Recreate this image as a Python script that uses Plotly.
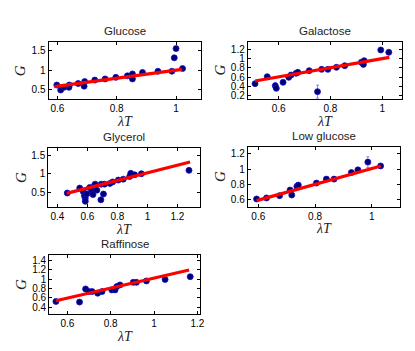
import plotly.graph_objects as go

# ---------------- data ----------------
titles = ["Glucose", "Galactose", "Glycerol", "Low glucose", "Raffinose"]

glucose_x = [0.598, 0.611, 0.622, 0.639, 0.640, 0.670, 0.692, 0.690, 0.726, 0.761,
             0.797, 0.836, 0.853, 0.853, 0.887, 0.939, 0.986, 0.994, 1.000, 1.022]
glucose_y = [0.61, 0.48, 0.55, 0.55, 0.61, 0.65, 0.70, 0.58, 0.74, 0.77,
             0.81, 0.85, 0.90, 0.77, 0.94, 0.97, 0.97, 1.32, 1.56, 1.04]
glucose_err = [0.02] * 20
glucose_fit_x = [0.59, 1.02]
glucose_fit_y = [0.57, 1.02]

galactose_x = [0.509, 0.556, 0.587, 0.591, 0.617, 0.639, 0.648, 0.667, 0.674, 0.718,
               0.750, 0.766, 0.790, 0.823, 0.855, 0.919, 0.927, 0.930, 0.994, 1.025]
galactose_y = [0.457, 0.607, 0.414, 0.357, 0.486, 0.593, 0.643, 0.679, 0.700, 0.736,
               0.286, 0.764, 0.764, 0.807, 0.843, 0.914, 0.871, 0.950, 1.180, 1.130]
galactose_err = [0.02, 0.02, 0.07, 0.03, 0.02, 0.03, 0.02, 0.02, 0.02, 0.02,
                 0.14, 0.02, 0.02, 0.02, 0.02, 0.03, 0.02, 0.02, 0.02, 0.02]
galactose_fit_x = [0.509, 1.027]
galactose_fit_y = [0.514, 1.02]

glycerol_x = [0.466, 0.549, 0.571, 0.580, 0.586, 0.586, 0.597, 0.615, 0.630, 0.637,
              0.646, 0.652, 0.663, 0.692, 0.690, 0.707, 0.714, 0.750, 0.768, 0.806,
              0.839, 0.882, 0.889, 0.915, 0.960, 1.277]
glycerol_y = [0.482, 0.615, 0.527, 0.41, 0.34, 0.26, 0.46, 0.63, 0.54, 0.44,
              0.68, 0.72, 0.56, 0.72, 0.30, 0.456, 0.72, 0.74, 0.78, 0.83,
              0.854, 0.925, 1.01, 0.97, 1.00, 1.09]
glycerol_err = [0.02, 0.03, 0.04, 0.05, 0.05, 0.05, 0.05, 0.03, 0.04, 0.05,
                0.03, 0.03, 0.04, 0.03, 0.05, 0.06, 0.03, 0.03, 0.02, 0.02,
                0.02, 0.03, 0.03, 0.02, 0.02, 0.02]
glycerol_fit_x = [0.461, 1.284]
glycerol_fit_y = [0.473, 1.314]

lowglu_x = [0.594, 0.629, 0.675, 0.712, 0.718, 0.736, 0.741, 0.805, 0.840, 0.867,
            0.928, 0.951, 0.986, 1.031]
lowglu_y = [0.609, 0.622, 0.652, 0.725, 0.660, 0.773, 0.790, 0.816, 0.868, 0.868,
            0.954, 0.989, 1.090, 1.040]
lowglu_err = [0.01, 0.01, 0.01, 0.02, 0.02, 0.01, 0.01, 0.01, 0.01, 0.01,
              0.01, 0.01, 0.07, 0.01]
lowglu_fit_x = [0.594, 1.032]
lowglu_fit_y = [0.587, 1.04]

raffinose_x = [0.547, 0.656, 0.684, 0.699, 0.714, 0.740, 0.760, 0.805, 0.820, 0.828,
               0.843, 0.904, 0.919, 0.965, 1.051, 1.167]
raffinose_y = [0.526, 0.512, 0.790, 0.735, 0.735, 0.700, 0.735, 0.770, 0.770, 0.840,
               0.875, 0.930, 0.930, 0.960, 0.990, 1.050]
raffinose_err = [0.02] * 16
raffinose_fit_x = [0.547, 1.162]
raffinose_fit_y = [0.54, 1.19]

x_ranges = [[0.57, 1.083], [0.481, 1.074], [0.339, 1.35], [0.563, 1.099], [0.516, 1.212]]
y_ranges = [[0.24, 1.74], [0.13, 1.357], [0.10, 1.695], [0.509, 1.286], [0.267, 1.505]]
x_ticks = [[0.6, 0.8, 1.0], [0.6, 0.8, 1.0], [0.4, 0.6, 0.8, 1.0, 1.2],
           [0.6, 0.8, 1.0], [0.6, 0.8, 1.0, 1.2]]
y_ticks = [[0.5, 1.0, 1.5], [0.2, 0.4, 0.6, 0.8, 1.0, 1.2], [0.5, 1.0, 1.5],
           [0.6, 0.8, 1.0, 1.2], [0.4, 0.6, 0.8, 1.0, 1.2, 1.4]]

# ---------------- layout geometry (pixels) ----------------
W, H = 415, 351
boxes = [(41, 195, 33, 91), (242.7, 398.3, 33, 90.7), (40.7, 194.3, 140, 200),
         (242.7, 396.7, 139.3, 199.3), (41.7, 194.3, 248.3, 307.3)]

series = [
    (glucose_x, glucose_y, glucose_err, glucose_fit_x, glucose_fit_y),
    (galactose_x, galactose_y, galactose_err, galactose_fit_x, galactose_fit_y),
    (glycerol_x, glycerol_y, glycerol_err, glycerol_fit_x, glycerol_fit_y),
    (lowglu_x, lowglu_y, lowglu_err, lowglu_fit_x, lowglu_fit_y),
    (raffinose_x, raffinose_y, raffinose_err, raffinose_fit_x, raffinose_fit_y),
]

def fmt(v):
    s = ("%.1f" % v)
    return s[:-2] if s.endswith(".0") else s

fig = go.Figure()
annotations = []
layout_axes = {}
for i, (xs, ys, es, fx, fy) in enumerate(series):
    n = "" if i == 0 else str(i + 1)
    xa, ya = "x" + n, "y" + n
    fig.add_trace(go.Scatter(
        x=xs, y=ys, xaxis=xa, yaxis=ya, mode="markers",
        marker=dict(size=6, color="#000070", line=dict(color="#1010d0", width=0.8)),
        error_y=dict(type="data", array=es, visible=True, color="rgba(60,60,255,0.75)",
                     thickness=0.8, width=1.5),
        showlegend=False, hoverinfo="skip"))
    fig.add_trace(go.Scatter(
        x=fx, y=fy, xaxis=xa, yaxis=ya, mode="lines",
        line=dict(color="#ff0000", width=3.2), showlegend=False, hoverinfo="skip"))
    x0, x1, y0, y1 = boxes[i]
    common = dict(showgrid=False, zeroline=False, showline=True, linecolor="black",
                  linewidth=1, mirror="ticks", ticks="inside", ticklen=3,
                  tickcolor="black", tickfont=dict(family="Liberation Sans", size=10,
                                                  color="black"))
    layout_axes["xaxis" + n] = dict(common, domain=[x0 / W, x1 / W], range=x_ranges[i],
                                    anchor=ya, tickvals=x_ticks[i],
                                    ticktext=[fmt(v) for v in x_ticks[i]])
    layout_axes["yaxis" + n] = dict(common, domain=[1 - y1 / H, 1 - y0 / H],
                                    range=y_ranges[i], anchor=xa, tickvals=y_ticks[i],
                                    ticktext=[fmt(v) for v in y_ticks[i]])
    cx = (x0 + x1) / 2
    # title
    annotations.append(dict(text=titles[i], x=cx / W, y=1 - (y0 - 11) / H,
                            xref="paper", yref="paper", showarrow=False,
                            xanchor="center", yanchor="middle",
                            font=dict(family="Liberation Sans", size=11.5, color="#222")))
    # x label
    annotations.append(dict(text="<i>λT</i>", x=cx / W, y=1 - (y1 + 13) / H,
                            xref="paper", yref="paper", showarrow=False,
                            xanchor="center", yanchor="top",
                            font=dict(family="Liberation Serif", size=14, color="#222")))
    # y label
    annotations.append(dict(text="<i>G</i>", x=(x0 - 28) / W, y=1 - ((y0 + y1) / 2) / H,
                            xref="paper", yref="paper", showarrow=False, textangle=-90,
                            xanchor="center", yanchor="middle",
                            font=dict(family="Liberation Serif", size=15, color="#222")))

fig.update_layout(width=W, height=H, margin=dict(l=0, r=0, t=0, b=0),
                  paper_bgcolor="white", plot_bgcolor="white",
                  annotations=annotations, **layout_axes)
fig.write_html("out.html")
